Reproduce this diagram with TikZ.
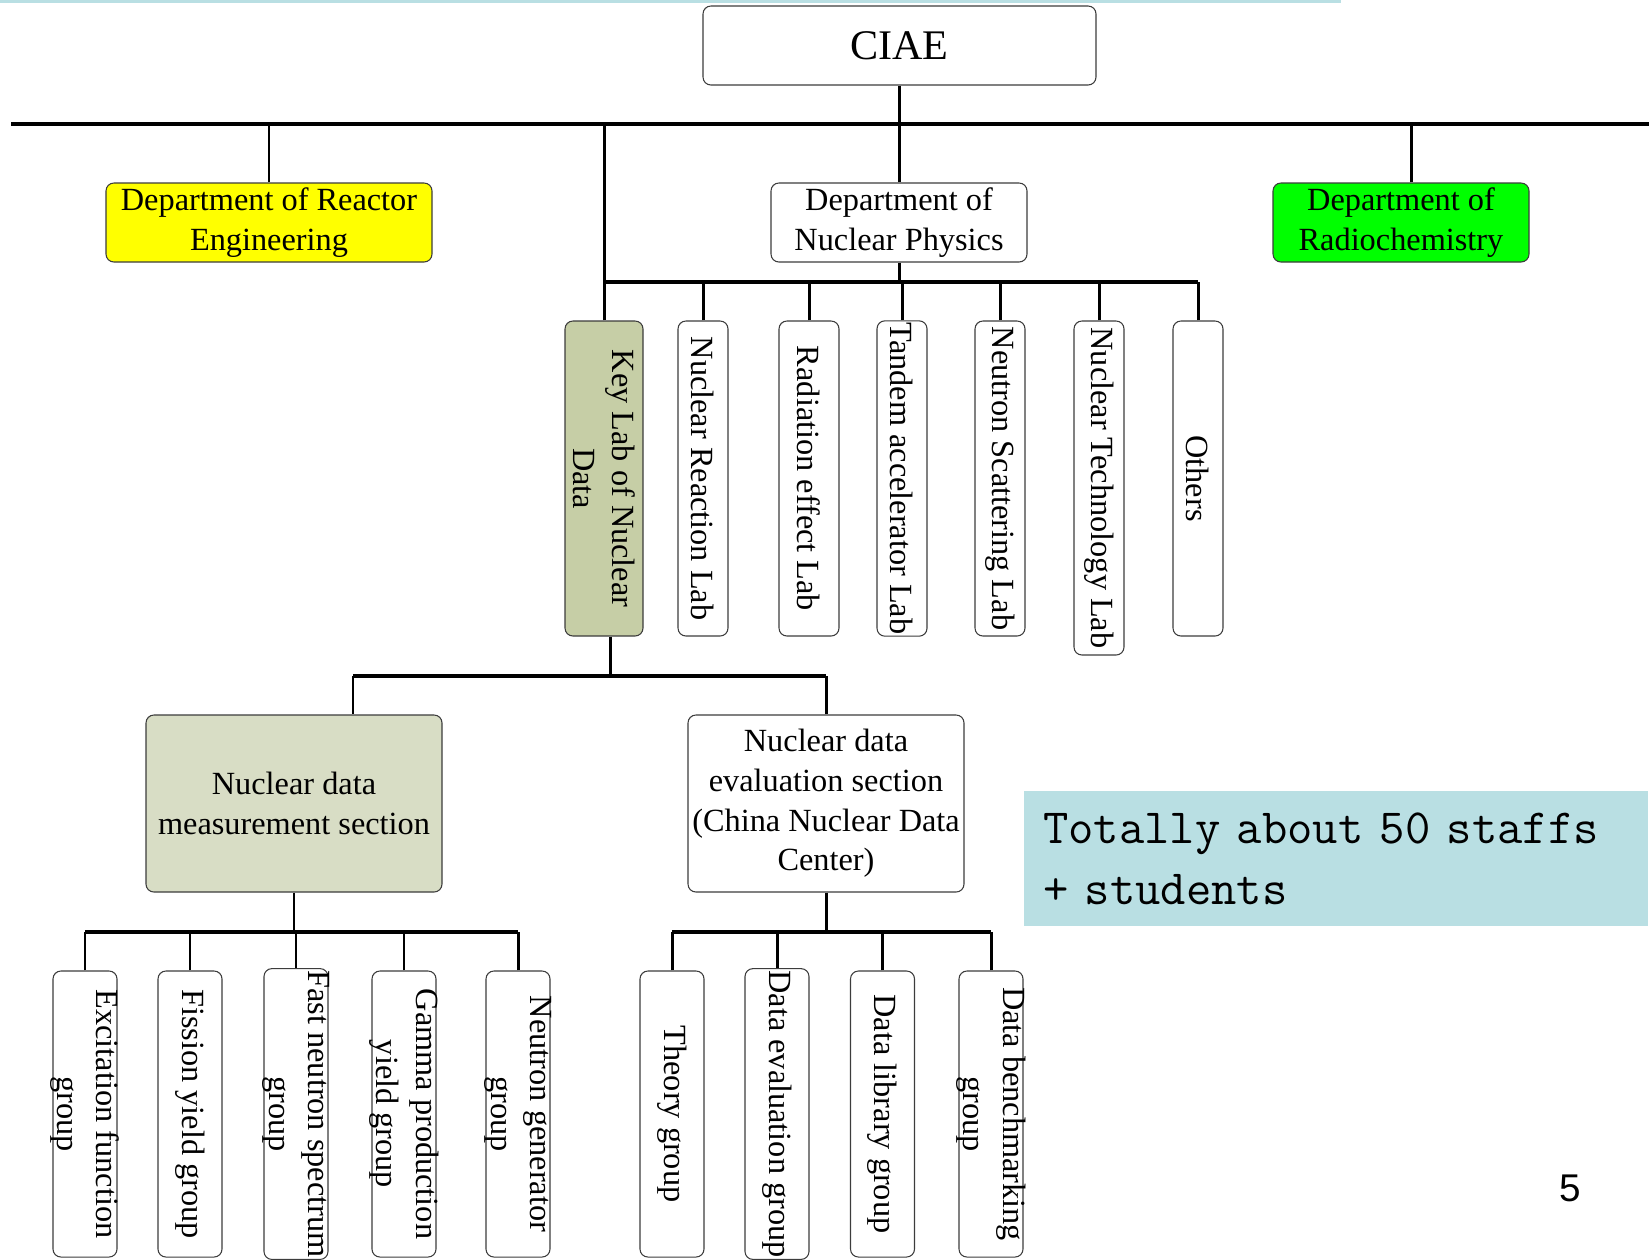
\documentclass[tikz,border=0pt]{standalone}
\usepackage{fontspec}
\setmainfont{Liberation Serif}
\newfontfamily\PageNumberFont{Liberation Sans}
\usepackage{tikz}
\usetikzlibrary{positioning}
\usetikzlibrary{calc}
\newcommand{\PixelUnit}{0.02cm}
\definecolor{ReactorColor}{RGB}{255,255,0}
\definecolor{RadioColor}{RGB}{0,255,0}
\definecolor{KeyLabColor}{RGB}{198,206,166}
\definecolor{SectionColor}{RGB}{216,221,197}
\definecolor{NoteColor}{RGB}{185,223,227}
\definecolor{BorderColor}{RGB}{60,60,60}

\tikzset{
	orgbox/.style={draw=BorderColor, line width=0.6pt, rounded corners=4.5pt, align=center, inner sep=1pt, font=\fontsize{18.4}{22.5}\selectfont},
	deptbox/.style={orgbox, minimum height=79*\PixelUnit},
	labbox/.style={orgbox, rotate=-90, minimum width=315*\PixelUnit, minimum height=50*\PixelUnit},
	groupbox/.style={orgbox, rotate=-90, inner ysep=-3.5pt, minimum width=286*\PixelUnit, minimum height=64*\PixelUnit},
	sectionbox/.style={orgbox, minimum width=276*\PixelUnit, minimum height=177*\PixelUnit},
	bus/.style={line width=2.8pt},
	subbus/.style={line width=2.3pt},
	link/.style={line width=1.7pt}
}

\begin{document}
\begin{tikzpicture}[x=\PixelUnit, y=-\PixelUnit]
	\useasboundingbox (0,0) rectangle (1652,1259);
	% top rule
	\fill[NoteColor] (0,0) rectangle (1341,3);
	
	% institute and departments
	\node[deptbox, minimum width=393*\PixelUnit, font=\fontsize{24}{28}\selectfont] (CIAE) at (899.5,45.5) {CIAE};
	\node[deptbox, minimum width=326*\PixelUnit, fill=ReactorColor] (Reactor) at (269,222.5) {Department of Reactor\\Engineering};
	\node[deptbox, minimum width=256*\PixelUnit] (NucPhys) at (899,222.5) {Department of\\Nuclear Physics};
	\node[deptbox, minimum width=256*\PixelUnit, fill=RadioColor] (Radio) at (1401,222.5) {Department of\\Radiochemistry};
	
	% labs
	\node[labbox, minimum height=78*\PixelUnit, fill=KeyLabColor] (KeyLab) at (604,478.5) {Key Lab of Nuclear\\Data};
	\node[labbox] (NucReact) at (703,478.5) {Nuclear Reaction Lab};
	\node[labbox, minimum height=60*\PixelUnit] (Radiation) at (809,478.5) {Radiation effect Lab};
	\node[labbox] (Tandem) at (902,478.5) {Tandem accelerator Lab};
	\node[labbox] (NeutScat) at (1000,478.5) {Neutron Scattering Lab};
	\node[labbox, minimum width=334*\PixelUnit] (NucTech) at (1099,488) {Nuclear Technology Lab};
	\node[labbox] (Others) at (1198,478.5) {Others};
	
	% sections
	\node[sectionbox, minimum width=296*\PixelUnit, fill=SectionColor] (Meas) at (294,803.5) {Nuclear data\\measurement section};
	\node[sectionbox] (Eval) at (826,803.5) {Nuclear data\\evaluation section\\(China Nuclear Data\\Center)};
	
	% groups
	\node[groupbox] (Excit) at (85,1114) {Excitation function\\group};
	\node[groupbox] (Fission) at (190,1114) {Fission yield group};
	\node[groupbox] (FastNeut) at (296,1114) {Fast neutron spectrum\\group};
	\node[groupbox] (Gamma) at (404,1114) {Gamma production\\yield group};
	\node[groupbox] (NeutGen) at (518,1114) {Neutron generator\\group};
	\node[groupbox] (Theory) at (672,1114) {Theory group};
	\node[groupbox] (DataEval) at (777,1114) {Data evaluation group};
	\node[groupbox] (DataLib) at (882.5,1114) {Data library group};
	\node[groupbox] (Bench) at (991,1114) {Data benchmarking\\group};
	
	% main bus
	\coordinate (BusLeft) at (11,124);
	\coordinate (BusRight) at (1649,124);
	\draw[bus] (BusLeft) -- (BusRight);
	\draw[link] (CIAE.south) -- (CIAE.south |- BusLeft);
	\draw[link] (Reactor.north) -- (Reactor.north |- BusLeft);
	\draw[link] (NucPhys.north) -- (NucPhys.north |- BusLeft);
	\draw[link] ([xshift=10*\PixelUnit]Radio.north) -- ([xshift=10*\PixelUnit]Radio.north |- BusLeft);
	\draw[link] (KeyLab.west) -- (KeyLab.west |- BusLeft);
	
	% lab bus
	\coordinate (LabBus) at (899,282);
	\draw[subbus] (KeyLab.west |- LabBus) -- (Others.west |- LabBus);
	\draw[link] (NucPhys.south) -- (LabBus);
	\foreach \Lab in {NucReact,Radiation,Tandem,NeutScat,NucTech,Others}
		\draw[link] (\Lab.west) -- (\Lab.west |- LabBus);
	
	% section bus
	\coordinate (MeasTap) at (353,676);
	\draw[link] ([xshift=6*\PixelUnit]KeyLab.east) -- ([xshift=6*\PixelUnit]KeyLab.east |- MeasTap);
	\draw[subbus] (MeasTap) -- (Eval.north |- MeasTap);
	\draw[link] (MeasTap) -- (MeasTap |- Meas.north);
	\draw[link] (Eval.north) -- (Eval.north |- MeasTap);
	
	% measurement groups
	\coordinate (MeasBus) at (295,932);
	\draw[link] (Meas.south) -- (Meas.south |- MeasBus);
	\draw[subbus] (Excit.west |- MeasBus) -- (NeutGen.west |- MeasBus);
	\foreach \Group in {Excit,Fission,FastNeut,Gamma,NeutGen}
		\draw[link] (\Group.west) -- (\Group.west |- MeasBus);
	
	% evaluation groups
	\coordinate (EvalBus) at (826,932);
	\draw[link] (Eval.south) -- (EvalBus);
	\draw[subbus] (Theory.west |- EvalBus) -- (Bench.west |- EvalBus);
	\foreach \Group in {Theory,DataEval,DataLib,Bench}
		\draw[link] (\Group.west) -- (\Group.west |- EvalBus);
	
	% staff note
	\node[fill=NoteColor, minimum width=624*\PixelUnit, minimum height=135*\PixelUnit, text width=586*\PixelUnit, inner xsep=19*\PixelUnit, align=left, font=\ttfamily\fontsize{28}{34.5}\selectfont] (Note) at (1336,858.5) {Totally about 50 staffs\\+ students};
	
	% page number
	\node[font=\PageNumberFont\fontsize{22}{26}\selectfont] (PageNum) at (1570,1188) {5};
\end{tikzpicture}
\end{document}
